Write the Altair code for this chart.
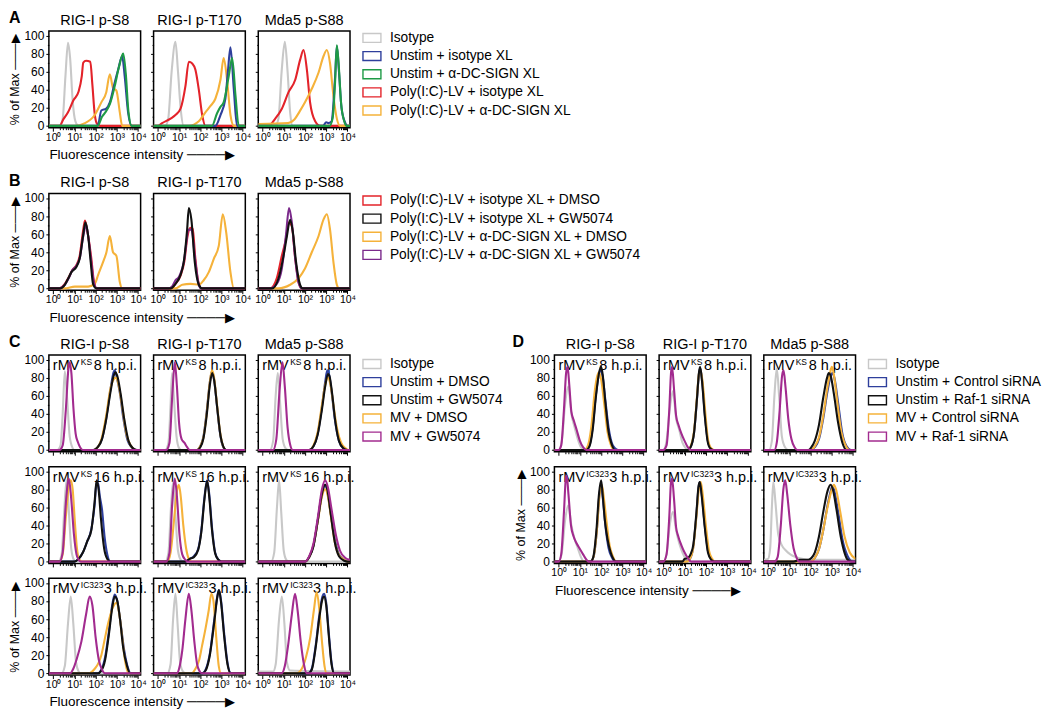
import math
import altair as alt
import pandas as pd

FONT = "Liberation Sans, Arial, Helvetica, sans-serif"

GRAY = "#c8c8c8"
BLUE = "#2e3f9c"
GREEN = "#1e9a46"
RED = "#e3232a"
ORANGE = "#f5b23a"
BLACK = "#111111"
MAGENTA = "#a22b8f"
PURPLE = "#7b2a8b"

MARKERS = ["RIG-I p-S8", "RIG-I p-T170", "Mda5 p-S88"]
X_TICK_LABELS = ["10⁰", "10¹", "10²", "10³", "10⁴"]
Y_TICKS = [0, 10, 20, 30, 40, 50, 60, 70, 80, 90, 100]

# ---------------- legends ----------------
LEG_A = ["Isotype", "Unstim + isotype XL", "Unstim + α-DC-SIGN XL",
         "Poly(I:C)-LV + isotype XL", "Poly(I:C)-LV + α-DC-SIGN XL"]
COL_A = [GRAY, BLUE, GREEN, RED, ORANGE]
LEG_B = ["Poly(I:C)-LV + isotype XL + DMSO", "Poly(I:C)-LV + isotype XL + GW5074",
         "Poly(I:C)-LV + α-DC-SIGN XL + DMSO", "Poly(I:C)-LV + α-DC-SIGN XL + GW5074"]
COL_B = [RED, BLACK, ORANGE, PURPLE]
LEG_C = ["Isotype", "Unstim + DMSO", "Unstim + GW5074", "MV + DMSO", "MV + GW5074"]
LEG_D = ["Isotype", "Unstim + Control siRNA", "Unstim + Raf-1 siRNA",
         "MV + Control siRNA", "MV + Raf-1 siRNA"]
COL_CD = [GRAY, BLUE, BLACK, ORANGE, MAGENTA]

# x values are log10(fluorescence), y values are % of max

# ---------------- panel A ----------------
A_S8 = {
    "gray": [(0.3, 0), (0.45, 8), (0.58, 55), (0.7, 92), (0.8, 75), (0.92, 28), (1.05, 5), (1.2, 0)],
    "blue": [(2.1, 0), (2.27, 17), (2.5, 19), (2.67, 26), (2.9, 48), (3.06, 62), (3.25, 77), (3.37, 55), (3.53, 15), (3.7, 0)],
    "green": [(2.1, 0), (2.3, 10), (2.43, 14), (2.67, 24), (2.9, 44), (3.1, 65), (3.3, 80), (3.42, 58), (3.55, 15), (3.7, 0)],
    "red": [(0.3, 0), (0.5, 8), (0.7, 15), (0.95, 28), (1.2, 38), (1.35, 55), (1.42, 70), (1.55, 72), (1.75, 71), (1.85, 45), (1.95, 15), (2.05, 3), (2.2, 0)],
    "orange": [(1.0, 0), (1.5, 3), (1.96, 12), (2.27, 26), (2.5, 37), (2.67, 57), (2.82, 42), (2.98, 39), (3.14, 15), (3.25, 0)],
}
A_T170 = {
    "gray": [(0.35, 0), (0.49, 8), (0.65, 60), (0.83, 93), (0.95, 60), (1.08, 18), (1.22, 0)],
    "blue": [(2.71, 0), (2.95, 12), (3.18, 30), (3.3, 60), (3.42, 87), (3.58, 40), (3.73, 0)],
    "green": [(2.55, 0), (2.79, 14), (2.95, 21), (3.1, 26), (3.34, 55), (3.5, 75), (3.66, 33), (3.81, 0)],
    "red": [(0.0, 0), (0.2, 3), (0.6, 8), (0.83, 12), (1.07, 19), (1.3, 44), (1.46, 71), (1.62, 69), (1.77, 62), (1.93, 40), (2.09, 12), (2.24, 0)],
    "orange": [(1.46, 0), (1.93, 5), (2.24, 15), (2.48, 22), (2.71, 30), (2.95, 51), (3.1, 75), (3.26, 51), (3.42, 12), (3.58, 0)],
}
A_S88 = {
    "gray": [(0.6, 0), (0.75, 8), (0.9, 60), (1.05, 93), (1.18, 60), (1.3, 15), (1.42, 0)],
    "blue": [(2.85, 0), (3.0, 4), (3.1, 3), (3.25, 5), (3.42, 55), (3.5, 88), (3.6, 60), (3.72, 20), (3.9, 3), (4.0, 0)],
    "green": [(3.15, 0), (3.3, 8), (3.42, 50), (3.5, 89), (3.58, 70), (3.7, 25), (3.85, 5), (3.97, 0)],
    "red": [(0.28, 0), (0.6, 8), (0.91, 19), (1.22, 37), (1.54, 51), (1.77, 73), (1.93, 84), (2.09, 62), (2.24, 26), (2.48, 5), (2.71, 0)],
    "orange": [(-0.2, 2), (1.2, 3), (1.5, 7), (1.75, 16), (2.0, 26), (2.32, 41), (2.64, 59), (2.87, 77), (3.03, 84), (3.18, 69), (3.34, 33), (3.5, 8), (3.65, 0)],
}

# ---------------- panel B ----------------
B_S8 = {
    "orange": [(0.55, 0), (1.02, 2), (1.65, 2), (1.96, 5), (2.12, 15), (2.35, 29), (2.51, 40), (2.67, 58), (2.82, 40), (2.98, 36), (3.14, 7), (3.25, 0)],
    "red": [(0.3, 0), (0.55, 5), (0.75, 13), (0.9, 20), (1.1, 26), (1.25, 36), (1.4, 62), (1.5, 75), (1.62, 62), (1.8, 33), (1.92, 8), (2.06, 0)],
    "pur": [(0.3, 0), (0.55, 4), (0.75, 12), (0.9, 20), (1.1, 25), (1.27, 35), (1.42, 58), (1.55, 70), (1.65, 58), (1.8, 28), (1.92, 6), (2.05, 0)],
    "black": [(0.31, 0), (0.55, 4), (0.71, 11), (0.86, 18), (1.1, 24), (1.25, 33), (1.41, 58), (1.52, 73), (1.65, 58), (1.77, 29), (1.88, 5), (2.04, 0)],
}
B_T170 = {
    "orange": [(0.83, 0), (1.15, 4), (1.54, 5), (1.93, 4), (2.16, 9), (2.4, 18), (2.64, 33), (2.87, 47), (3.06, 82), (3.22, 62), (3.42, 18), (3.58, 0)],
    "red": [(0.6, 0), (0.83, 5), (1.07, 14), (1.25, 30), (1.4, 58), (1.54, 67), (1.64, 66), (1.76, 35), (1.9, 8), (2.05, 0)],
    "pur": [(0.5, 0), (0.67, 2), (0.83, 9), (1.0, 13), (1.22, 29), (1.46, 65), (1.58, 65), (1.77, 29), (1.93, 4), (2.05, 0)],
    "black": [(0.6, 0), (0.83, 5), (1.07, 15), (1.22, 29), (1.38, 65), (1.46, 89), (1.58, 76), (1.74, 29), (1.93, 4), (2.09, 0)],
}
B_S88 = {
    "orange": [(0.75, 0), (1.3, 4), (1.69, 11), (2.0, 22), (2.32, 40), (2.64, 58), (2.87, 76), (3.03, 82), (3.18, 65), (3.34, 29), (3.5, 4), (3.61, 0)],
    "red": [(0.36, 0), (0.67, 11), (0.91, 36), (1.07, 51), (1.25, 73), (1.38, 69), (1.54, 33), (1.72, 5), (1.85, 0)],
    "pur": [(0.36, 0), (0.67, 5), (0.91, 22), (1.1, 58), (1.25, 89), (1.38, 73), (1.54, 33), (1.69, 7), (1.85, 0)],
    "black": [(0.45, 0), (0.75, 11), (0.99, 36), (1.15, 58), (1.3, 76), (1.43, 62), (1.58, 29), (1.77, 4), (1.9, 0)],
}

# ---------------- panel C ----------------
C_KS8_S8 = {
    "gray": [(0.2, 0), (0.35, 5), (0.45, 40), (0.55, 87), (0.65, 60), (0.78, 15), (0.92, 2), (1.0, 0)],
    "blue": [(1.9, 0), (2.1, 3), (2.3, 12), (2.5, 35), (2.7, 67), (2.85, 86), (2.9, 88), (3.0, 80), (3.15, 62), (3.3, 36), (3.5, 11), (3.7, 3), (3.9, 0)],
    "orange": [(1.9, 0), (2.1, 3), (2.3, 14), (2.5, 38), (2.7, 68), (2.85, 78), (2.97, 80), (3.1, 70), (3.25, 48), (3.45, 18), (3.65, 5), (3.9, 0)],
    "black": [(1.9, 0), (2.1, 3), (2.3, 12), (2.5, 34), (2.7, 64), (2.85, 82), (2.93, 86), (3.02, 82), (3.18, 62), (3.35, 34), (3.55, 10), (3.75, 2), (3.95, 0)],
    "mag": [(0.3, 0), (0.45, 5), (0.6, 45), (0.72, 90), (0.78, 97), (0.86, 85), (0.96, 45), (1.06, 18), (1.16, 9), (1.27, 3), (1.4, 0)],
}
C_KS8_T170 = {
    "gray": [(0.35, 0), (0.5, 8), (0.6, 50), (0.67, 85), (0.75, 60), (0.88, 15), (1.0, 2), (1.1, 0)],
    "blue": [(1.85, 0), (2.0, 4), (2.15, 15), (2.3, 42), (2.45, 75), (2.55, 87), (2.65, 78), (2.78, 50), (2.92, 20), (3.05, 5), (3.2, 0)],
    "orange": [(1.85, 0), (2.0, 4), (2.15, 14), (2.3, 40), (2.45, 75), (2.55, 88), (2.65, 80), (2.78, 52), (2.92, 22), (3.05, 6), (3.2, 0)],
    "black": [(1.85, 0), (2.0, 3), (2.15, 13), (2.3, 38), (2.45, 72), (2.56, 85), (2.66, 76), (2.8, 46), (2.95, 16), (3.08, 4), (3.22, 0)],
    "mag": [(0.4, 0), (0.55, 8), (0.68, 60), (0.8, 97), (0.9, 70), (1.0, 30), (1.12, 12), (1.25, 8), (1.38, 3), (1.5, 0)],
}
C_KS8_S88 = {
    "gray": [(0.35, 0), (0.5, 10), (0.62, 60), (0.72, 85), (0.82, 55), (0.95, 12), (1.08, 2), (1.2, 0)],
    "blue": [(2.2, 0), (2.4, 4), (2.6, 18), (2.8, 48), (2.95, 75), (3.05, 88), (3.12, 85), (3.25, 65), (3.4, 35), (3.6, 10), (3.8, 2), (4.0, 0)],
    "orange": [(2.2, 0), (2.4, 5), (2.6, 20), (2.8, 50), (2.95, 72), (3.08, 80), (3.2, 72), (3.35, 48), (3.5, 25), (3.7, 8), (3.9, 2), (4.05, 0)],
    "black": [(2.2, 0), (2.4, 4), (2.6, 17), (2.8, 45), (2.95, 70), (3.08, 84), (3.15, 82), (3.28, 62), (3.42, 33), (3.6, 10), (3.8, 2), (4.0, 0)],
    "mag": [(0.5, 0), (0.65, 12), (0.8, 65), (0.94, 97), (1.05, 70), (1.18, 25), (1.3, 6), (1.42, 0)],
}
C_KS16_S8 = {
    "gray": [(0.25, 0), (0.4, 8), (0.52, 55), (0.63, 90), (0.73, 60), (0.85, 15), (0.98, 2), (1.1, 0)],
    "blue": [(1.0, 0), (1.2, 3), (1.4, 10), (1.6, 22), (1.8, 36), (1.95, 62), (2.05, 88), (2.12, 86), (2.2, 72), (2.3, 58), (2.42, 28), (2.55, 8), (2.7, 0)],
    "orange": [(0.3, 0), (0.45, 8), (0.6, 50), (0.75, 85), (0.83, 90), (0.92, 80), (1.02, 45), (1.12, 15), (1.22, 3), (1.35, 0)],
    "black": [(1.0, 0), (1.2, 3), (1.4, 10), (1.6, 22), (1.8, 35), (1.95, 65), (2.05, 90), (2.15, 78), (2.25, 48), (2.4, 15), (2.55, 3), (2.7, 0)],
    "mag": [(0.3, 0), (0.45, 10), (0.6, 65), (0.74, 92), (0.85, 70), (0.98, 30), (1.1, 8), (1.2, 2), (1.3, 0)],
}
C_KS16_T170 = {
    "gray": [(0.35, 0), (0.5, 10), (0.62, 60), (0.72, 88), (0.82, 55), (0.95, 12), (1.08, 2), (1.2, 0)],
    "blue": [(1.3, 0), (1.5, 3), (1.7, 6), (1.9, 14), (2.05, 35), (2.2, 72), (2.32, 90), (2.42, 75), (2.55, 38), (2.7, 10), (2.85, 2), (3.0, 0)],
    "orange": [(0.45, 0), (0.6, 10), (0.78, 50), (0.9, 78), (0.99, 85), (1.08, 72), (1.2, 40), (1.33, 15), (1.46, 3), (1.6, 0)],
    "black": [(1.3, 0), (1.5, 3), (1.7, 5), (1.9, 13), (2.05, 33), (2.2, 70), (2.32, 89), (2.42, 72), (2.55, 35), (2.7, 9), (2.85, 2), (3.0, 0)],
    "mag": [(0.4, 0), (0.55, 10), (0.68, 65), (0.8, 92), (0.9, 72), (1.02, 30), (1.15, 8), (1.3, 2), (1.4, 0)],
}
C_KS16_S88 = {
    "gray": [(0.4, 0), (0.55, 10), (0.68, 60), (0.78, 90), (0.88, 55), (1.0, 12), (1.12, 2), (1.25, 0)],
    "blue": [(2.0, 0), (2.2, 5), (2.4, 18), (2.6, 45), (2.8, 75), (2.93, 85), (3.05, 78), (3.2, 55), (3.4, 25), (3.6, 8), (3.85, 2), (4.0, 0)],
    "orange": [(2.0, 0), (2.2, 5), (2.4, 18), (2.6, 44), (2.8, 72), (2.95, 80), (3.08, 72), (3.22, 50), (3.4, 22), (3.6, 7), (3.85, 2), (4.0, 0)],
    "black": [(2.0, 0), (2.2, 5), (2.4, 17), (2.6, 45), (2.8, 75), (2.95, 85), (3.05, 80), (3.2, 55), (3.4, 22), (3.6, 6), (3.85, 1), (4.0, 0)],
    "mag": [(2.0, 0), (2.2, 6), (2.4, 20), (2.6, 48), (2.8, 80), (2.95, 90), (3.08, 82), (3.25, 58), (3.45, 30), (3.65, 12), (3.9, 4), (4.12, 2)],
}
C_IC3_S8 = {
    "gray": [(0.4, 0), (0.55, 8), (0.7, 55), (0.83, 85), (0.95, 55), (1.08, 12), (1.2, 2), (1.3, 0)],
    "blue": [(2.1, 0), (2.27, 4), (2.45, 18), (2.62, 45), (2.78, 75), (2.9, 87), (3.02, 80), (3.18, 55), (3.35, 25), (3.5, 8), (3.65, 0)],
    "orange": [(1.7, 0), (1.96, 5), (2.15, 12), (2.27, 20), (2.45, 40), (2.59, 55), (2.8, 72), (2.98, 78), (3.1, 68), (3.25, 40), (3.4, 12), (3.55, 0)],
    "black": [(2.1, 0), (2.27, 3), (2.45, 15), (2.62, 42), (2.78, 72), (2.9, 85), (3.0, 82), (3.15, 60), (3.3, 28), (3.48, 8), (3.62, 0)],
    "mag": [(0.8, 0), (0.95, 5), (1.1, 15), (1.33, 35), (1.55, 65), (1.72, 85), (1.85, 75), (2.0, 40), (2.15, 15), (2.3, 4), (2.45, 0)],
}
C_IC3_T170 = {
    "gray": [(0.45, 0), (0.6, 10), (0.72, 60), (0.83, 88), (0.93, 55), (1.05, 12), (1.18, 2), (1.3, 0)],
    "blue": [(2.1, 0), (2.25, 4), (2.45, 22), (2.65, 58), (2.8, 85), (2.88, 92), (2.98, 80), (3.12, 45), (3.28, 12), (3.44, 0)],
    "orange": [(1.6, 0), (1.77, 5), (1.95, 15), (2.08, 30), (2.25, 50), (2.4, 70), (2.52, 88), (2.62, 80), (2.75, 40), (2.87, 8), (2.98, 0)],
    "black": [(2.1, 0), (2.25, 3), (2.45, 20), (2.65, 55), (2.8, 84), (2.88, 92), (2.98, 78), (3.12, 42), (3.28, 10), (3.44, 0)],
    "mag": [(0.9, 0), (1.0, 5), (1.15, 25), (1.3, 60), (1.46, 88), (1.58, 70), (1.72, 35), (1.85, 10), (1.95, 3), (2.05, 0)],
}
C_IC3_S88 = {
    "gray": [(-0.2, 2), (0.5, 2), (0.62, 10), (0.78, 60), (0.91, 85), (1.03, 55), (1.15, 12), (1.3, 3), (4.12, 2)],
    "blue": [(2.15, 0), (2.32, 5), (2.5, 30), (2.68, 65), (2.82, 85), (2.9, 88), (3.0, 78), (3.12, 45), (3.25, 12), (3.38, 0)],
    "orange": [(1.6, 0), (1.85, 5), (2.05, 18), (2.25, 40), (2.42, 70), (2.55, 90), (2.67, 72), (2.8, 35), (2.92, 8), (3.02, 0)],
    "black": [(2.15, 0), (2.32, 4), (2.5, 28), (2.68, 62), (2.82, 82), (2.9, 85), (3.0, 75), (3.12, 42), (3.25, 10), (3.38, 0)],
    "mag": [(0.9, 0), (1.05, 8), (1.2, 30), (1.38, 65), (1.53, 88), (1.65, 70), (1.8, 35), (1.95, 10), (2.08, 0)],
}

# ---------------- panel D ----------------
D_KS8_S8 = {
    "gray": [(0.0, 0), (0.15, 10), (0.3, 50), (0.45, 70), (0.6, 40), (0.75, 25), (0.9, 12), (1.05, 3), (1.2, 0)],
    "blue": [(1.3, 0), (1.45, 5), (1.6, 25), (1.75, 60), (1.88, 82), (1.98, 88), (2.08, 80), (2.2, 55), (2.35, 25), (2.5, 8), (2.65, 2), (2.8, 0)],
    "orange": [(1.2, 0), (1.38, 5), (1.55, 28), (1.7, 65), (1.82, 82), (1.9, 86), (2.0, 78), (2.15, 50), (2.3, 20), (2.45, 6), (2.6, 0)],
    "black": [(1.3, 0), (1.45, 4), (1.6, 22), (1.75, 58), (1.9, 85), (2.0, 92), (2.08, 82), (2.2, 52), (2.35, 20), (2.5, 6), (2.65, 0)],
    "mag": [(0.0, 0), (0.12, 5), (0.25, 45), (0.35, 85), (0.42, 92), (0.5, 72), (0.6, 42), (0.72, 32), (0.85, 22), (1.0, 10), (1.15, 3), (1.3, 0)],
}
D_KS8_T170 = {
    "gray": [(0.0, 0), (0.15, 10), (0.3, 45), (0.45, 65), (0.6, 35), (0.75, 22), (0.9, 8), (1.05, 2), (1.2, 0)],
    "blue": [(1.15, 0), (1.3, 4), (1.45, 20), (1.58, 55), (1.68, 85), (1.74, 90), (1.82, 78), (1.95, 40), (2.08, 12), (2.22, 2), (2.35, 0)],
    "orange": [(1.15, 0), (1.3, 5), (1.45, 22), (1.58, 58), (1.68, 85), (1.75, 88), (1.85, 75), (1.98, 40), (2.1, 12), (2.25, 2), (2.4, 0)],
    "black": [(1.15, 0), (1.3, 4), (1.45, 20), (1.58, 56), (1.68, 86), (1.73, 92), (1.82, 76), (1.95, 38), (2.08, 10), (2.2, 2), (2.35, 0)],
    "mag": [(0.0, 0), (0.15, 5), (0.28, 45), (0.36, 85), (0.41, 92), (0.5, 68), (0.6, 38), (0.72, 27), (0.85, 18), (1.0, 10), (1.15, 3), (1.3, 0)],
}
D_KS8_S88 = {
    "gray": [(0.05, 0), (0.18, 10), (0.3, 60), (0.41, 90), (0.52, 60), (0.65, 15), (0.8, 3), (0.95, 0)],
    "blue": [(2.0, 0), (2.2, 3), (2.4, 12), (2.6, 35), (2.8, 65), (2.95, 82), (3.03, 85), (3.12, 80), (3.3, 52), (3.5, 18), (3.7, 4), (3.9, 0)],
    "orange": [(2.0, 0), (2.2, 4), (2.4, 14), (2.6, 38), (2.8, 70), (2.95, 88), (3.0, 92), (3.08, 86), (3.25, 55), (3.45, 20), (3.65, 5), (3.85, 0)],
    "black": [(1.9, 0), (2.04, 3), (2.2, 10), (2.4, 28), (2.6, 58), (2.78, 80), (2.86, 85), (2.95, 82), (3.1, 62), (3.3, 30), (3.5, 8), (3.7, 0)],
    "mag": [(0.3, 0), (0.41, 8), (0.55, 45), (0.66, 82), (0.73, 88), (0.82, 70), (0.95, 35), (1.1, 12), (1.25, 3), (1.38, 0)],
}
D_IC3_S8 = {
    "gray": [(0.0, 0), (0.15, 10), (0.3, 45), (0.45, 62), (0.6, 40), (0.75, 25), (0.9, 15), (1.05, 5), (1.2, 0)],
    "blue": [(1.5, 0), (1.65, 6), (1.8, 35), (1.92, 75), (2.0, 85), (2.08, 70), (2.2, 40), (2.35, 15), (2.5, 5), (2.65, 0)],
    "orange": [(1.5, 0), (1.65, 6), (1.8, 35), (1.92, 72), (2.03, 85), (2.12, 72), (2.25, 45), (2.4, 18), (2.55, 6), (2.7, 0)],
    "black": [(1.5, 0), (1.63, 5), (1.78, 35), (1.9, 75), (2.0, 90), (2.08, 72), (2.18, 45), (2.3, 25), (2.45, 10), (2.6, 2), (2.7, 0)],
    "mag": [(0.0, 0), (0.12, 8), (0.25, 55), (0.33, 90), (0.38, 95), (0.46, 75), (0.58, 40), (0.7, 28), (0.85, 20), (1.0, 14), (1.15, 8), (1.28, 3), (1.4, 0)],
}
D_IC3_T170 = {
    "gray": [(0.0, 0), (0.15, 8), (0.3, 40), (0.45, 55), (0.6, 35), (0.75, 20), (0.9, 10), (1.05, 3), (1.2, 0)],
    "blue": [(1.1, 0), (1.25, 3), (1.4, 15), (1.55, 50), (1.66, 82), (1.72, 88), (1.8, 76), (1.95, 40), (2.1, 12), (2.25, 3), (2.4, 0)],
    "orange": [(1.1, 0), (1.25, 3), (1.4, 14), (1.55, 48), (1.68, 82), (1.76, 88), (1.85, 75), (2.0, 40), (2.15, 12), (2.3, 3), (2.45, 0)],
    "black": [(0.9, 0), (1.0, 3), (1.15, 4), (1.28, 8), (1.42, 20), (1.56, 55), (1.66, 84), (1.72, 88), (1.8, 74), (1.95, 38), (2.1, 10), (2.25, 2), (2.4, 0)],
    "mag": [(0.0, 0), (0.15, 8), (0.28, 50), (0.36, 88), (0.41, 92), (0.5, 70), (0.6, 38), (0.7, 28), (0.85, 18), (1.0, 10), (1.15, 4), (1.31, 0)],
}
D_IC3_S88 = {
    "gray": [(-0.2, 2), (0.0, 3), (0.1, 15), (0.18, 60), (0.25, 88), (0.35, 65), (0.48, 30), (0.65, 18), (0.85, 12), (1.05, 8), (1.3, 5), (1.6, 3), (2.0, 2), (4.12, 2)],
    "blue": [(2.0, 0), (2.2, 4), (2.4, 14), (2.6, 35), (2.8, 62), (2.95, 78), (3.02, 83), (3.1, 80), (3.3, 55), (3.5, 25), (3.75, 6), (4.0, 0)],
    "orange": [(2.0, 0), (2.2, 4), (2.4, 14), (2.6, 35), (2.8, 60), (2.98, 78), (3.1, 85), (3.2, 80), (3.4, 55), (3.6, 28), (3.85, 10), (4.12, 3)],
    "black": [(1.2, 0), (1.5, 2), (1.9, 2), (2.04, 4), (2.2, 10), (2.4, 28), (2.6, 55), (2.8, 78), (2.94, 85), (3.05, 80), (3.22, 58), (3.42, 28), (3.6, 10), (3.75, 2), (3.9, 0)],
    "mag": [(0.3, 0), (0.45, 5), (0.6, 40), (0.72, 80), (0.81, 90), (0.9, 75), (1.05, 40), (1.2, 15), (1.35, 4), (1.47, 0)],
}

COLORS = {"gray": GRAY, "blue": BLUE, "green": GREEN, "red": RED, "orange": ORANGE,
          "black": BLACK, "mag": MAGENTA, "pur": PURPLE}
ORDER_A = ["gray", "red", "orange", "blue", "green"]
ORDER_B = ["orange", "red", "pur", "black"]
ORDER_CD = ["gray", "blue", "orange", "black", "mag"]

# ---------------- layout constants ----------------
W, H = 92, 97
X0, X1 = -0.2, 4.12
XS = alt.Scale(domain=[X0, X1], nice=False, zero=False)
YS = alt.Scale(domain=[-2, 105], nice=False, zero=False)
X_VALUES = [k + math.log10(m) for k in range(4) for m in range(1, 10)] + [4]
X_LABEL_EXPR = ("datum.value % 1 == 0 ? [" + ",".join("'%s'" % s for s in X_TICK_LABELS)
                + "][datum.value] : ''")
Y_TITLE = "% of Max  ───▶"
X_TITLE = "Fluorescence intensity   ────▶"


def x_axis(labels, title):
    kw = dict(values=X_VALUES, labels=labels, labelExpr=X_LABEL_EXPR, labelFlush=False,
              labelOverlap=False, labelFontSize=10.5, labelPadding=1, labelColor="black",
              tickSize={"condition": {"test": "datum.value % 1 == 0", "value": 3.5}, "value": 2},
              tickColor="black", tickWidth=1, domain=False, grid=False)
    if title:
        kw.update(title=title, titleAnchor="start", titleAlign="left", titleFontSize=13.5,
                  titleFontWeight="normal", titlePadding=5, titleColor="black")
    else:
        kw["title"] = None
    return alt.Axis(**kw)


def y_axis(labels, title):
    kw = dict(values=Y_TICKS, labels=labels, labelExpr="datum.value % 20 == 0 ? datum.label : ''",
              labelOverlap=False, labelFontSize=12, labelPadding=2, labelColor="black",
              tickSize={"condition": {"test": "datum.value % 20 == 0", "value": 3}, "value": 1.5},
              tickColor="black", tickWidth=1, domain=False, grid=False)
    if title:
        kw.update(title=title, titleFontSize=12.5, titleFontWeight="normal", titlePadding=2,
                  titleColor="black")
    else:
        kw["title"] = None
    return alt.Axis(**kw)


def text_layer(txt, x, y, size, weight="normal", align="left"):
    return alt.Chart(pd.DataFrame({"t": [txt]})).mark_text(
        align=align, baseline="alphabetic", fontSize=size, fontWeight=weight,
        color="black", font=FONT).encode(text="t:N", x=alt.value(x), y=alt.value(y))


def panel(curves, order, title=None, xlab=False, ylab=False, xtitle=False, ytitle=False,
          ann=None, letter=None, letter_x=-40):
    xa = x_axis(xlab, X_TITLE if xtitle else None)
    ya = y_axis(ylab, Y_TITLE if ytitle else None)
    layers = []
    if letter:
        layers.append(text_layer(letter, letter_x, -8, 16, "bold"))
    if title:
        layers.append(text_layer(title, W / 2, -6, 14.5, align="center"))
    if ann:
        sup, rest = ann
        rest_x = 45 if sup == "KS" else 55
        layers.append(text_layer("rMV", 4, 15, 14.5))
        layers.append(text_layer(sup, 32, 10, 8.5))
        layers.append(text_layer(rest, rest_x, 15, 14.5))
    for name in order:
        pts = curves[name]
        pts = [(X0, pts[0][1])] + pts + [(X1, pts[-1][1])]
        df = pd.DataFrame(pts, columns=["x", "y"])
        layers.append(
            alt.Chart(df).mark_line(color=COLORS[name], strokeWidth=2.1,
                                    interpolate="monotone", clip=True)
            .encode(x=alt.X("x:Q", scale=XS, axis=xa), y=alt.Y("y:Q", scale=YS, axis=ya))
        )
    return alt.layer(*layers).properties(
        width=W, height=H, view=alt.ViewBackground(stroke="black", strokeWidth=1.5))


BOX = "M-1,-0.5L1,-0.5L1,0.5L-1,0.5Z"


def legend(labels, colors, width, top):
    df = pd.DataFrame({"i": list(range(len(labels))), "label": labels, "c": colors})
    ysc = alt.Scale(domain=[0, 1], range=[top, top + 18.2])
    boxes = alt.Chart(df).mark_point(shape=BOX, filled=False, size=324, strokeWidth=1.4, opacity=1).encode(
        x=alt.value(9), y=alt.Y("i:Q", scale=ysc, axis=None), color=alt.Color("c:N", scale=None))
    texts = alt.Chart(df).mark_text(align="left", baseline="middle", fontSize=13.8, color="black",
                                    font=FONT).encode(
        x=alt.value(27), y=alt.Y("i:Q", scale=ysc, axis=None), text="label:N")
    return alt.layer(boxes, texts).properties(width=width, height=H)


def spacer(h=1):
    return alt.Chart(pd.DataFrame({"v": [0]})).mark_point(opacity=0).encode(
        x=alt.value(0), y=alt.value(0)).properties(width=1, height=h)


A_DATA = [A_S8, A_T170, A_S88]
B_DATA = [B_S8, B_T170, B_S88]
C_ROWS = [([C_KS8_S8, C_KS8_T170, C_KS8_S88], ("KS", "8 h.p.i.")),
          ([C_KS16_S8, C_KS16_T170, C_KS16_S88], ("KS", "16 h.p.i.")),
          ([C_IC3_S8, C_IC3_T170, C_IC3_S88], ("IC323", "3 h.p.i."))]
D_ROWS = [([D_KS8_S8, D_KS8_T170, D_KS8_S88], ("KS", "8 h.p.i.")),
          ([D_IC3_S8, D_IC3_T170, D_IC3_S88], ("IC323", "3 h.p.i."))]

cells = []
# row A
for j, d in enumerate(A_DATA):
    cells.append(panel(d, ORDER_A, title=MARKERS[j], xlab=True, ylab=(j == 0),
                       xtitle=(j == 0), ytitle=(j == 0), letter=("A" if j == 0 else None)))
cells.append(legend(LEG_A, COL_A, 179, 7))
cells += [spacer(), spacer(), spacer(), spacer(148)]
# row B
for j, d in enumerate(B_DATA):
    cells.append(panel(d, ORDER_B, title=MARKERS[j], xlab=True, ylab=(j == 0),
                       xtitle=(j == 0), ytitle=(j == 0), letter=("B" if j == 0 else None)))
cells.append(legend(LEG_B, COL_B, 179, 7))
cells += [spacer(), spacer(), spacer(), spacer(147)]
# rows C / D
for r in range(3):
    cdata, cann = C_ROWS[r]
    last = (r == 2)
    for j, d in enumerate(cdata):
        cells.append(panel(d, ORDER_CD, title=(MARKERS[j] if r == 0 else None), xlab=last,
                           ylab=(j == 0), xtitle=(last and j == 0), ytitle=(last and j == 0),
                           ann=cann, letter=("C" if (r == 0 and j == 0) else None)))
    if r == 0:
        cells.append(legend(LEG_C, COL_CD, 179, 9))
    else:
        cells.append(spacer())
    if r < 2:
        ddata, dann = D_ROWS[r]
        dlast = (r == 1)
        for j, d in enumerate(ddata):
            cells.append(panel(d, ORDER_CD, title=(MARKERS[j] if r == 0 else None), xlab=dlast,
                               ylab=(j == 0), xtitle=(dlast and j == 0), ytitle=(dlast and j == 0),
                               ann=dann, letter=("D" if (r == 0 and j == 0) else None), letter_x=-42))
        if r == 0:
            cells.append(legend(LEG_D, COL_CD, 150, 9))
        else:
            cells.append(spacer())
    else:
        cells += [spacer(), spacer(), spacer(), spacer()]

chart = alt.concat(*cells, columns=8, spacing={"row": 15, "column": 13}, bounds="flush",
                   align="each", padding=0).configure(font=FONT).configure_view(
    stroke="transparent").configure_axis(labelFont=FONT, titleFont=FONT).configure_title(font=FONT)

chart.save("out.html", embed_options={"renderer": "svg", "actions": False})
